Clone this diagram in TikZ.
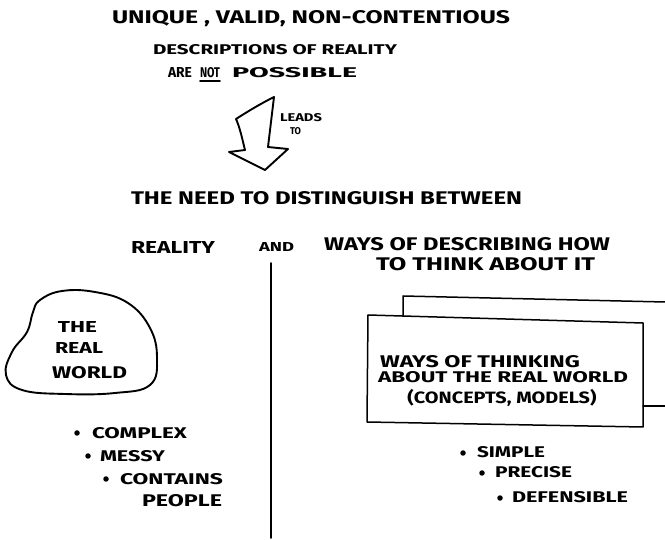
\documentclass[tikz,border=0pt]{standalone}
\usepackage{fontspec}
\setmainfont{Fira Sans}
\usepackage{graphicx}
% hand-lettered capitals: text squeezed into a given width and cap height
\newcommand\hw[3]{\resizebox{#1pt}{#2pt}{\bfseries #3}}
\newcommand\hwt[3]{\resizebox*{#1pt}{#2pt}{\bfseries #3}}
\begin{document}
\begin{tikzpicture}[x=1pt,y=-1pt,line join=round,line cap=round,
  txt/.style={anchor=base west,inner sep=0pt,outer sep=0pt},
  ctxt/.style={anchor=center,inner sep=0pt,outer sep=0pt},
  pen/.style={line width=1.9pt},
  thinpen/.style={line width=1.5pt},
  dot/.style={circle,fill=black,inner sep=0pt,minimum size=5.5pt}]
\useasboundingbox (0,0) rectangle (665,540);

% heading
\node[txt] (title) at (112,24) {\hw{398}{13}{UNIQUE , VALID, NON-CONTENTIOUS}};
\node[txt] (desc) at (153,55) {\hw{244}{10}{DESCRIPTIONS OF REALITY}};
\node[txt] (are) at (168,78) {\hw{24}{10}{ARE}};
\node[txt] (not) at (200,78) {\hw{20}{10}{NOT}};
\node[txt] (poss) at (232,78) {\hw{125}{10}{POSSIBLE}};
\draw[pen] ([yshift=-3pt]not.south west) -- ([yshift=-3pt]not.south east);

% hollow arrow
\draw[pen] (236,119) .. controls (250,110) and (262,103) .. (274,97)
  -- (268,147) -- (288,149) -- (265,170) -- (229,152) -- (245,150)
  .. controls (242,138) and (240,128) .. cycle;
\node[txt] (leads) at (280,122) {\hw{42}{8}{LEADS}};
\node[txt] (to) at (290,135) {\hw{11}{7}{TO}};

% the distinction
\node[txt] (need) at (131,205) {\hw{391}{13}{THE NEED TO DISTINGUISH BETWEEN}};
\node[txt] (reality) at (131,254) {\hw{84}{12}{REALITY}};
\node[txt] (and) at (259,252) {\hw{35}{9}{AND}};
\node[txt] (ways) at (324,251) {\hw{286}{13}{WAYS OF DESCRIBING HOW}};
\node[txt] (think) at (376,271) {\hw{219}{13}{TO THINK ABOUT IT}};

% dividing line
\coordinate (ltop) at (271,263);
\coordinate (lbot) at (271,538);
\draw[pen] (ltop) -- (lbot);

% the real world
\draw[pen] plot[smooth cycle,tension=0.7] coordinates {(40,300) (62,291) (95,292) (128,303) (150,328) (157,358) (150,385) (115,393) (65,394) (22,390) (6,375) (12,352) (27,332) (33,312)};
\node[txt] (the) at (58,333) {\hw{39}{11}{THE}};
\node[txt] (real) at (55,354) {\hw{48}{11}{REAL}};
\node[txt] (world) at (52,378) {\hw{75}{12}{WORLD}};

\node[dot] (b1) at (77,433) {};
\node[txt] (complex) at (92,439) {\hw{95}{11}{COMPLEX}};
\node[dot] (b2) at (88,456) {};
\node[txt] (messy) at (100,462) {\hw{65}{11}{MESSY}};
\node[dot] (b3) at (106,479) {};
\node[txt] (contains) at (120,485) {\hw{103}{11}{CONTAINS}};
\node[txt] (people) at (142,506) {\hw{80}{12}{PEOPLE}};

% ways of thinking: stacked sheets
\draw[thinpen] (403,316) -- (403,296) -- (665,302);
\draw[thinpen] (643,406) -- (665,406);
\draw[thinpen] (368,315) -- (643,323) -- (643,427) -- (367,422) -- cycle;
\node[txt] (wot) at (380,367) {\hw{200}{12}{WAYS OF THINKING}};
\node[txt] (atrw) at (378,383) {\hw{250}{11}{ABOUT THE REAL WORLD}};
\node[ctxt] (cm) at (502,398) {\hwt{189}{17}{(CONCEPTS, MODELS)}};

\node[dot] (b4) at (463,453) {};
\node[txt] (simple) at (477,458) {\hw{68}{11}{SIMPLE}};
\node[dot] (b5) at (482,473) {};
\node[txt] (precise) at (495,478) {\hw{77}{11}{PRECISE}};
\node[dot] (b6) at (500,498) {};
\node[txt] (defensible) at (512,503) {\hw{116}{11}{DEFENSIBLE}};
\end{tikzpicture}
\end{document}
